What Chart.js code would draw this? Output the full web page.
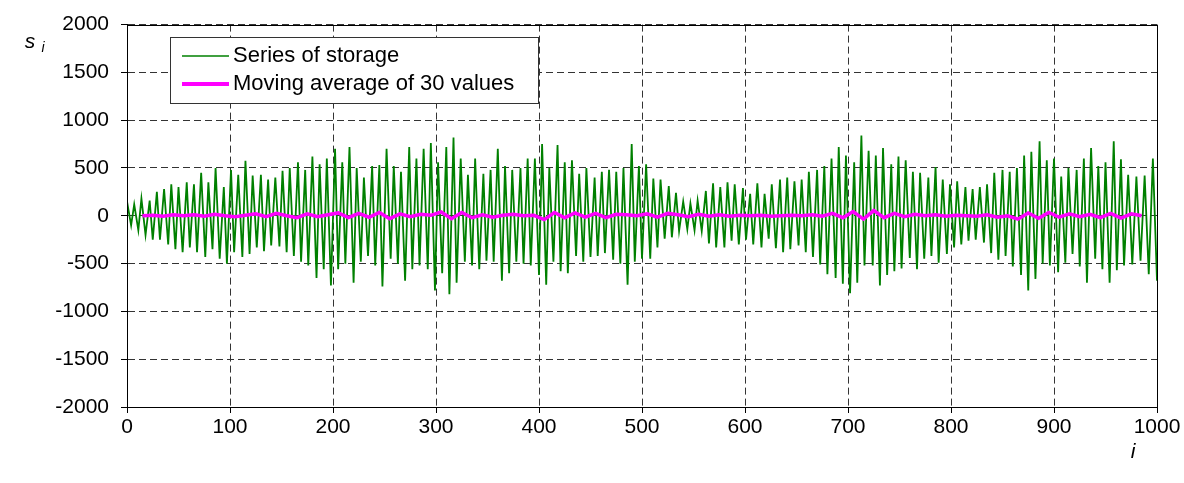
<!DOCTYPE html>
<html><head><meta charset="utf-8">
<script src="https://cdn.jsdelivr.net/npm/chart.js@4"></script>
<style>html,body{margin:0;padding:0;background:#fff}</style>
</head><body>
<canvas id="c" width="1184" height="483" style="width:1184px;height:483px;display:block"></canvas>
<script>
const xTicks = [0,100,200,300,400,500,600,700,800,900,1000];
const yTicks = [-2000,-1500,-1000,-500,0,500,1000,1500,2000];
const seriesNames = ['Series of storage','Moving average of 30 values'];

// sample index of each turning point of the storage series
const storageI = [
0,4,7,11,14,18,22,25,29,32,
36,40,43,47,50,54,58,61,65,68,
72,76,79,83,86,90,94,97,101,104,
108,112,115,119,122,126,130,133,137,140,
144,148,151,155,158,162,166,169,173,176,
180,184,187,191,194,198,202,205,209,212,
216,220,223,227,230,234,238,241,245,248,
252,256,259,263,266,270,274,277,281,284,
288,292,295,299,302,306,310,313,317,320,
324,328,331,335,338,342,346,349,353,356,
360,364,367,371,374,378,382,385,389,392,
396,400,403,407,410,414,418,421,425,428,
432,436,439,443,446,450,454,457,461,464,
468,472,475,479,482,486,490,493,497,500,
504,508,511,515,518,522,526,529,533,536,
540,544,547,551,554,558,562,565,569,572,
576,580,583,587,590,594,598,601,605,608,
612,616,619,623,626,630,634,637,641,644,
648,652,655,659,662,666,670,673,677,680,
684,688,691,695,698,702,706,709,713,716,
720,724,727,731,734,738,742,745,749,752,
756,760,763,767,770,774,778,781,785,788,
792,796,799,803,806,810,814,817,821,824,
828,832,835,839,842,846,850,853,857,860,
864,868,871,875,878,882,886,889,893,896,
900,904,907,911,914,918,922,925,929,932,
936,940,943,947,950,954,958,961,965,968,
972,976,980,984,988,992,996,1000
];
// storage value s_i at those turning points
const storageS = [
150,-100,120,-150,180,-200,160,-250,250,-250,
280,-300,330,-350,300,-380,350,-330,330,-380,
450,-430,350,-350,500,-450,300,-500,480,-380,
430,-430,575,-400,420,-330,430,-370,380,-310,
400,-320,470,-380,500,-420,560,-480,480,-520,
620,-650,540,-560,600,-730,700,-560,560,-500,
720,-700,500,-480,400,-420,520,-520,530,-740,
700,-450,520,-500,460,-680,720,-560,600,-520,
700,-560,760,-780,560,-600,720,-820,820,-700,
600,-480,430,-520,600,-560,440,-470,480,-480,
700,-680,520,-600,480,-480,500,-500,600,-520,
600,-620,750,-720,500,-480,740,-580,560,-600,
580,-420,440,-480,500,-430,400,-420,460,-390,
480,-460,460,-500,500,-720,750,-480,520,-450,
540,-450,390,-330,380,-240,310,-225,240,-160,
150,-140,130,-150,160,-160,260,-290,340,-330,
300,-330,350,-260,330,-300,290,-250,230,-300,
340,-330,230,-240,330,-340,380,-380,400,-350,
360,-310,380,-380,460,-430,480,-510,520,-610,
600,-650,720,-710,630,-810,560,-700,840,-520,
680,-520,630,-730,710,-620,540,-580,620,-550,
580,-440,460,-560,450,-450,400,-420,510,-490,
380,-400,330,-330,360,-300,300,-260,280,-250,
300,-280,330,-390,450,-460,480,-420,460,-530,
500,-620,630,-780,670,-660,780,-500,580,-520,
600,-590,410,-490,500,-400,480,-530,600,-700,
710,-450,520,-560,560,-700,780,-570,590,-520,
430,-510,410,-470,420,-610,600,-680
];

const maI = [
15,25,35,45,55,65,75,85,95,105,
115,125,135,145,155,165,175,185,195,205,
215,225,235,245,255,265,275,285,295,305,
315,325,335,345,355,365,375,385,395,405,
415,425,435,445,455,465,475,485,495,505,
515,525,535,545,555,565,575,585,595,605,
615,625,635,645,655,665,675,685,695,705,
715,725,735,745,755,765,775,785,795,805,
815,825,835,845,855,865,875,885,895,905,
915,925,935,945,955,965,975,985
];
const maS = [
0,5,-5,10,0,10,-5,15,0,-10,
5,20,-10,25,0,-20,20,-10,10,30,
-20,25,-15,35,-30,20,-10,15,5,40,
-30,35,-20,10,-15,5,15,0,5,-40,
35,-20,30,-15,25,-20,15,10,0,20,
-15,25,10,-10,15,-5,10,-5,5,0,
5,-5,0,5,0,10,-5,25,-20,45,
-35,55,-20,25,-10,15,0,10,-5,5,
0,-5,10,-15,0,-35,30,-25,35,-15,
20,-10,15,-20,25,-25,20,0
];

const FONT = '"Liberation Sans", Arial, sans-serif';
const GREEN = '#008000', MAGENTA = '#ff00ff';

const decor = {
  id: 'decor',
  afterDraw(chart) {
    const ctx = chart.ctx, a = chart.chartArea;
    ctx.save();
    ctx.strokeStyle = '#000'; ctx.lineWidth = 1; ctx.setLineDash([]);
    ctx.strokeRect(Math.round(a.left) + 0.5, Math.round(a.top) + 0.5, Math.round(a.right - a.left), Math.round(a.bottom - a.top));
    // legend
    const bx = 170.5, by = 37.5, bw = 368, bh = 66;
    ctx.fillStyle = '#fff'; ctx.fillRect(bx, by, bw, bh);
    ctx.strokeStyle = '#333'; ctx.strokeRect(bx, by, bw, bh);
    ctx.lineCap = 'butt';
    ctx.strokeStyle = GREEN; ctx.lineWidth = 1.5;
    ctx.beginPath(); ctx.moveTo(182, 56); ctx.lineTo(229, 56); ctx.stroke();
    ctx.strokeStyle = MAGENTA; ctx.lineWidth = 4;
    ctx.beginPath(); ctx.moveTo(182, 84); ctx.lineTo(229, 84); ctx.stroke();
    ctx.fillStyle = '#000'; ctx.font = '22px ' + FONT; ctx.textBaseline = 'middle'; ctx.textAlign = 'left';
    ctx.fillText(seriesNames[0], 233, 56);
    ctx.fillText(seriesNames[1], 233, 84);
    // axis titles
    ctx.font = 'italic 21px ' + FONT; ctx.textAlign = 'center';
    ctx.fillText('i', 1133, 452);
    ctx.fillText('s', 30, 42);
    ctx.font = 'italic 14px ' + FONT;
    ctx.fillText('i', 43, 48);
    ctx.restore();
  }
};

new Chart(document.getElementById('c'), {
  type: 'line',
  data: {
    datasets: [
      {
        label: seriesNames[1],
        data: maI.map((x, k) => ({x, y: maS[k]})),
        borderColor: MAGENTA, borderWidth: 3.5, pointRadius: 0, tension: 0, fill: false
      },
      {
        label: seriesNames[0],
        data: storageI.map((x, k) => ({x, y: storageS[k]})),
        borderColor: GREEN, borderWidth: 1.8, pointRadius: 0, tension: 0, fill: false
      }
    ]
  },
  options: {
    responsive: false, animation: false,
    layout: { padding: { left: 0, right: 27, top: 14, bottom: 0 } },
    plugins: { legend: { display: false }, tooltip: { enabled: false } },
    scales: {
      x: {
        type: 'linear', min: 0, max: 1000,
        afterBuildTicks(s) { s.ticks = xTicks.map(v => ({value: v})); },
        afterFit(s) { s.height = 76; },
        grid: { color: '#333', lineWidth: 1, tickLength: 6, tickColor: '#000' },
        border: { display: true, color: '#000', width: 1, dash: [7, 4] },
        ticks: { color: '#000', font: { family: FONT, size: 21 }, padding: 2, maxRotation: 0, autoSkip: false,
                 callback: v => String(v) }
      },
      y: {
        type: 'linear', min: -2000, max: 2000,
        afterBuildTicks(s) { s.ticks = yTicks.map(v => ({value: v})); },
        afterFit(s) { s.width = 127; },
        grid: { color: '#333', lineWidth: 1, tickLength: 6, tickColor: '#000' },
        border: { display: true, color: '#000', width: 1, dash: [7, 4] },
        ticks: { color: '#000', font: { family: FONT, size: 21 }, padding: 12, autoSkip: false,
                 callback: v => String(v) }
      }
    }
  },
  plugins: [decor]
});
</script>
</body></html>
